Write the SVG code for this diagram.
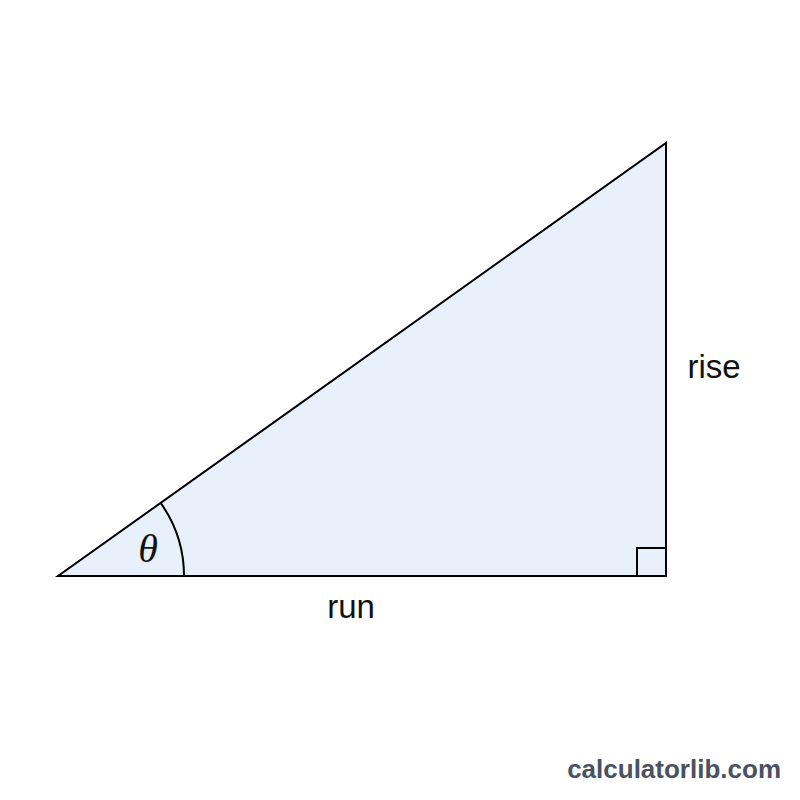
<svg xmlns="http://www.w3.org/2000/svg" width="800" height="800" viewBox="0 0 800 800">
<style>
.edge{fill:none;stroke:#000;stroke-width:2;stroke-linejoin:miter}
.lbl{font-family:"Liberation Sans",Arial,sans-serif;font-size:33px;fill:#111}
</style>
<rect width="800" height="800" fill="#fff"/>
<g id="triangle">
<polygon points="58,576 666,576 666,143" fill="#e8f0fc" stroke="#000" stroke-width="2"/>
</g>
<g id="markers">
<path class="edge" d="M 160.6,502.9 A 126 126 0 0 1 184,576"/>
<rect x="637" y="548" width="29" height="28" class="edge"/>
</g>
<g id="labels">
<text x="148" y="562" text-anchor="middle" font-family="'Liberation Serif','Times New Roman',serif" font-style="italic" font-size="40" fill="#111">θ</text>
<text class="lbl" x="714" y="378" text-anchor="middle">rise</text>
<text class="lbl" x="351" y="618" text-anchor="middle">run</text>
<text x="781" y="778" text-anchor="end" font-family="'Liberation Sans',Arial,sans-serif" font-weight="bold" font-size="26" fill="#4a5162">calculatorlib.com</text>
</g>
</svg>
